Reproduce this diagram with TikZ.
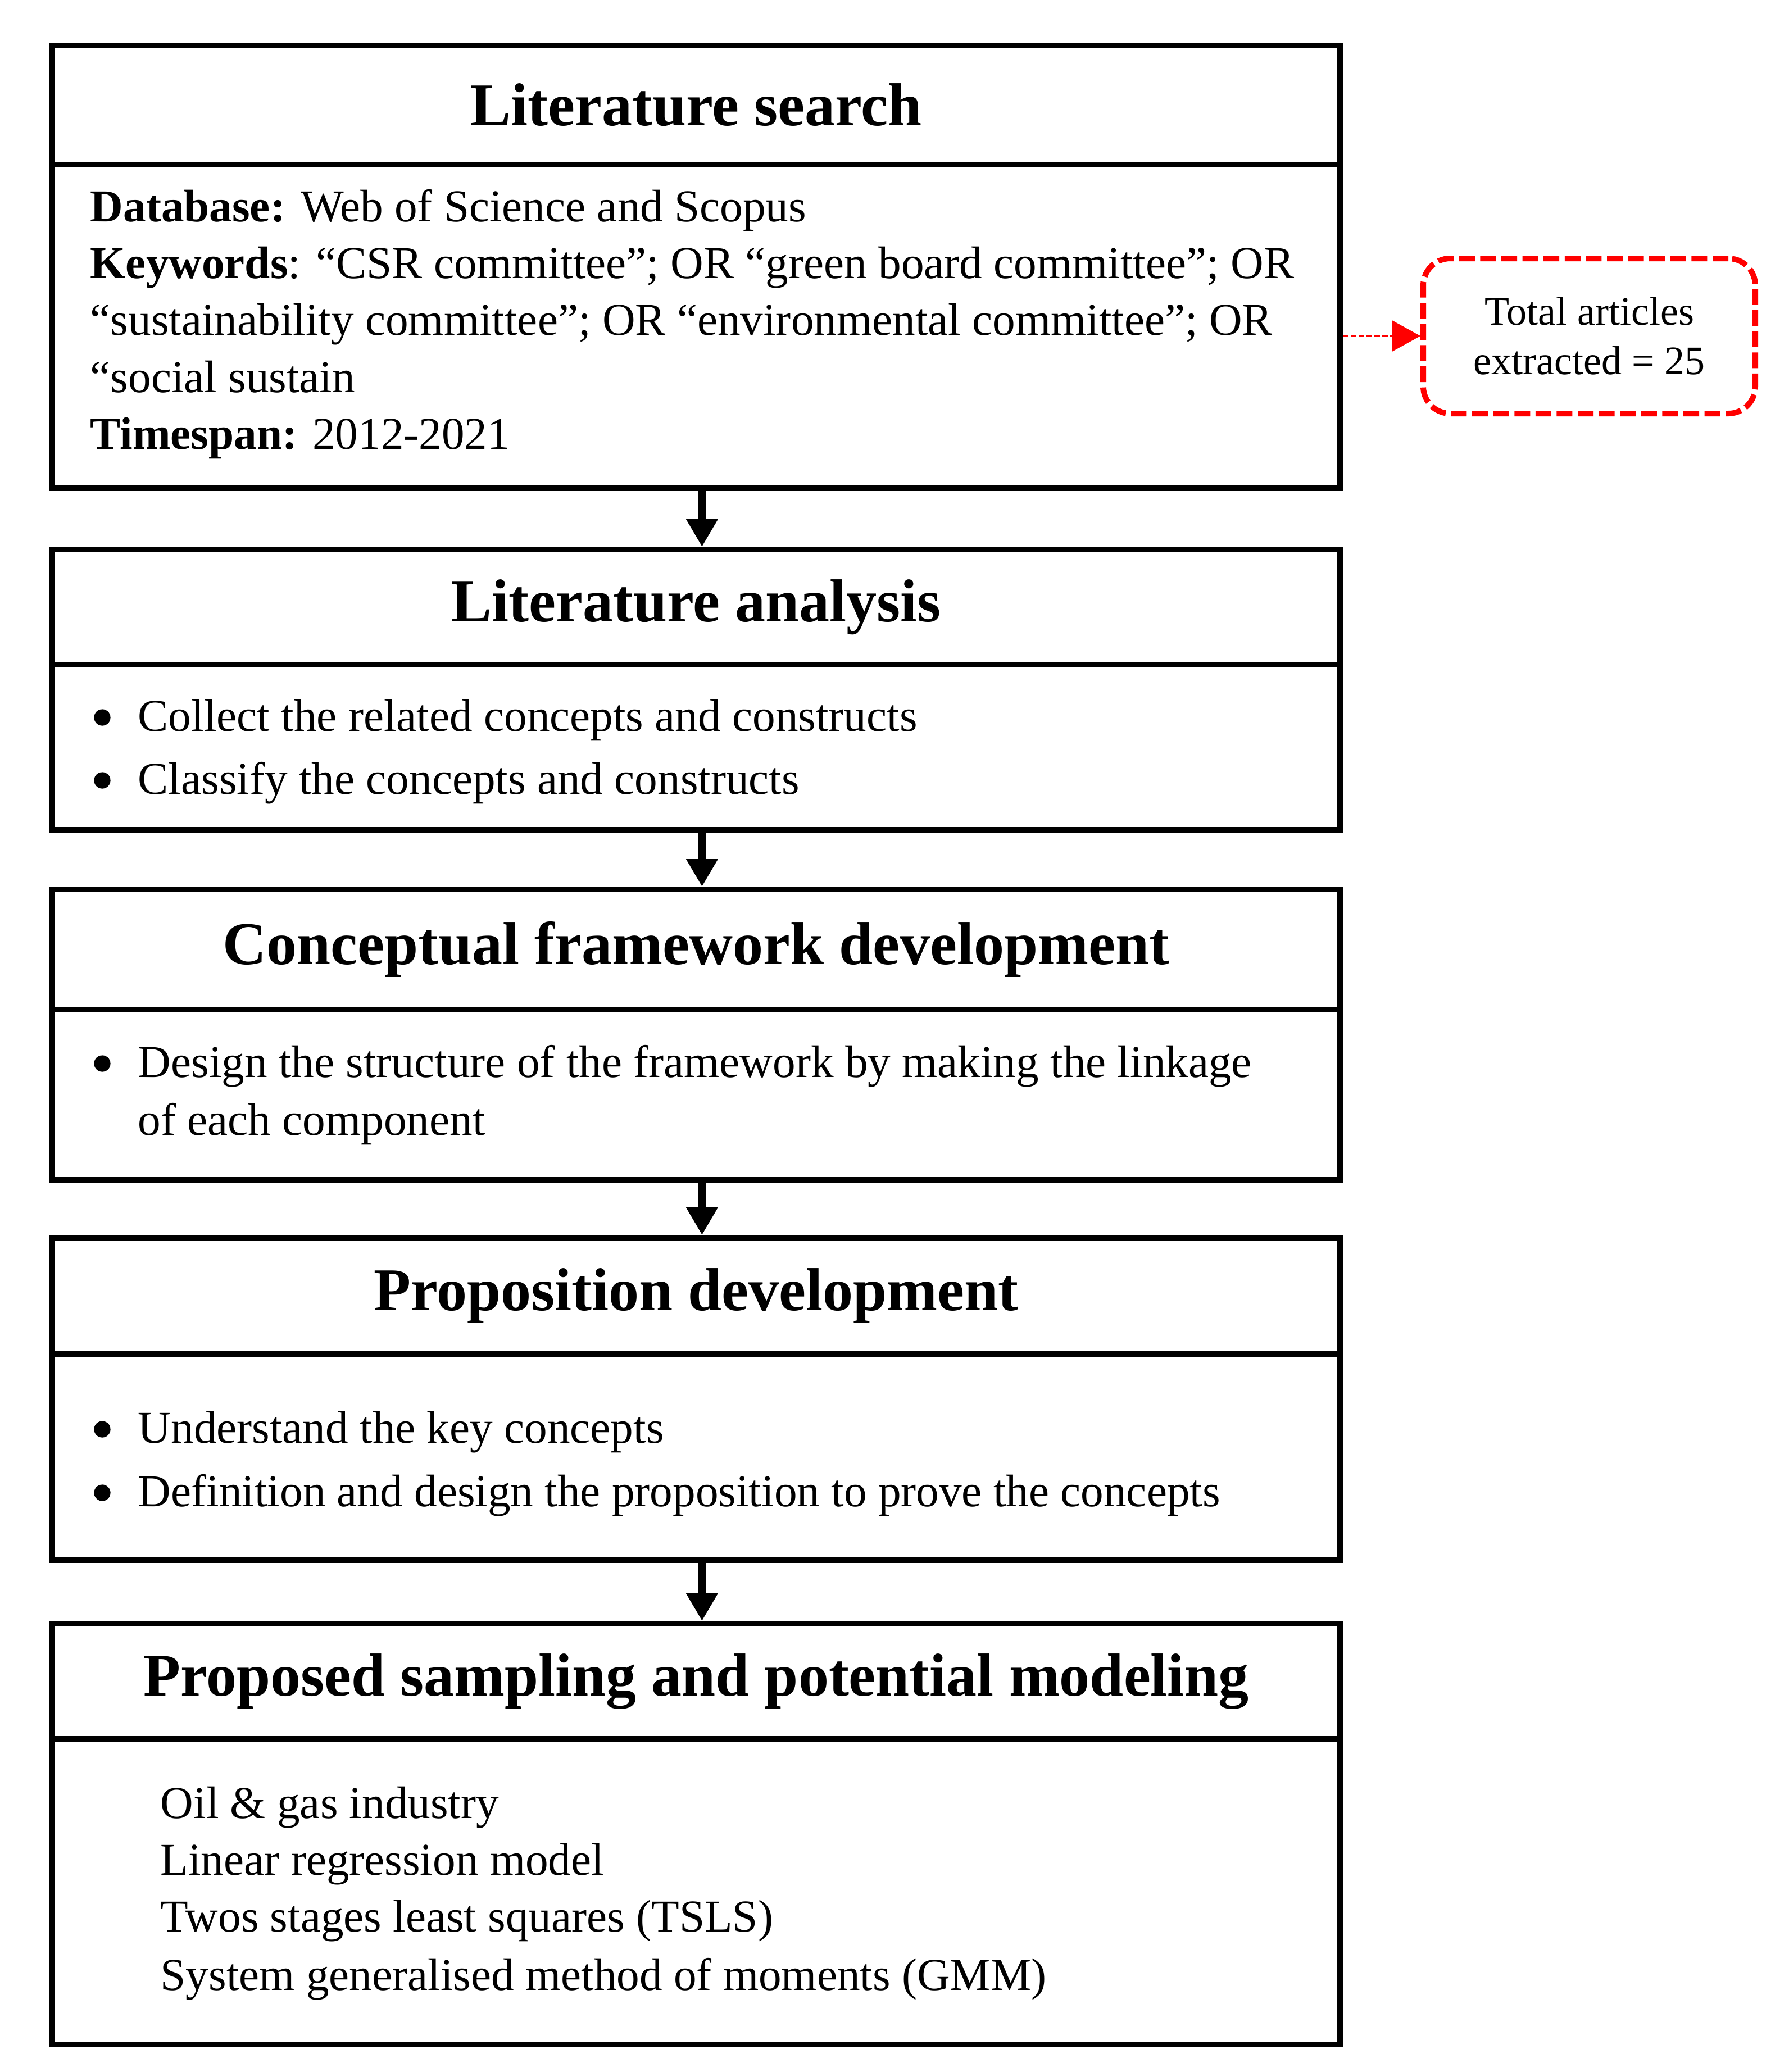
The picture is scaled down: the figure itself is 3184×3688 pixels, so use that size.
\documentclass[tikz,border=0pt]{standalone}
\usepackage{fontspec}
\setmainfont{Liberation Serif}
\usetikzlibrary{arrows.meta}
\begin{document}
\begin{tikzpicture}[x=0.25pt,y=-0.25pt,
  titlebox/.style={draw, line width=2.4pt, minimum width=572.9pt, inner sep=0pt,
    font=\fontsize{27}{32}\selectfont\bfseries},
  bodybox/.style={draw, line width=2.4pt, minimum width=572.9pt, inner sep=0pt},
  txt/.style={anchor=base west, inner sep=0pt, font=\fontsize{20.3}{25}\selectfont},
  bul/.style={circle, fill=black, inner sep=0pt, minimum size=7.3pt},
  arr/.style={line width=3.3pt, -{Triangle[length=12.25pt,width=13.25pt]}},
  redbox/.style={draw=red, line width=2.5pt, dash pattern=on 7pt off 2.4pt, rounded corners=12pt,
    minimum width=147.75pt, minimum height=69pt, inner sep=0pt, align=center,
    font=\fontsize{18}{22}\selectfont},
  redarr/.style={draw=red, line width=1.2pt, dash pattern=on 2.5pt off 1pt, -{Triangle[length=12.5pt,width=13.5pt]}}
]
\useasboundingbox (0,0) rectangle (3184,3688);

% Box 1
\node[titlebox, minimum height=53pt] (t1) at (1239,187) {Literature search};
\node[bodybox, minimum height=144pt] (b1) at (1239,581) {};
\node[txt] (l11) at (160,394) {\textbf{Database:} Web of Science and Scopus};
\node[txt] (l12) at (160,495) {\textbf{Keywords}: “CSR committee”; OR “green board committee”; OR};
\node[txt] (l13) at (160,596) {“sustainability committee”; OR “environmental committee”; OR};
\node[txt] (l14) at (160,698) {“social sustain};
\node[txt] (l15) at (160,799) {\textbf{Timespan:} 2012-2021};

% Box 2
\node[titlebox, minimum height=51.25pt] (t2) at (1239,1080.5) {Literature analysis};
\node[bodybox, minimum height=73.5pt] (b2) at (1239,1330) {};
\node[bul] (p21) at (182,1277) {};
\node[txt] (l21) at (245,1301) {Collect the related concepts and constructs};
\node[bul] (p22) at (182,1389) {};
\node[txt] (l22) at (245,1413) {Classify the concepts and constructs};

% Box 3
\node[titlebox, minimum height=53.5pt] (t3) at (1239,1690) {Conceptual framework development};
\node[bodybox, minimum height=75.75pt] (b3) at (1239,1948.5) {};
\node[bul] (p31) at (182,1893) {};
\node[txt] (l31) at (245,1917) {Design the structure of the framework by making the linkage};
\node[txt] (l32) at (245,2020) {of each component};

% Box 4
\node[titlebox, minimum height=51.75pt] (t4) at (1239,2306.5) {Proposition development};
\node[bodybox, minimum height=91.75pt] (b4) at (1239,2593.5) {};
\node[bul] (p41) at (182,2544) {};
\node[txt] (l41) at (245,2568) {Understand the key concepts};
\node[bul] (p42) at (182,2657) {};
\node[txt] (l42) at (245,2681) {Definition and design the proposition to prove the concepts};

% Box 5
\node[titlebox, minimum height=51.25pt] (t5) at (1239,2992.5) {Proposed sampling and potential modeling};
\node[bodybox, minimum height=136pt] (b5) at (1239,3367) {};
\node[txt] (l51) at (285,3236) {Oil \& gas industry};
\node[txt] (l52) at (285,3337) {Linear regression model};
\node[txt] (l53) at (285,3438) {Twos stages least squares (TSLS)};
\node[txt] (l54) at (285,3542) {System generalised method of moments (GMM)};

% Red box
\node[redbox] (r) at (2828.5,598) {Total articles\\extracted = 25};

% Connectors
\draw[arr] ([xshift=2.6pt]b1.south) -- ([xshift=2.6pt]t2.north);
\draw[arr] ([xshift=2.6pt]b2.south) -- ([xshift=2.6pt]t3.north);
\draw[arr] ([xshift=2.6pt]b3.south) -- ([xshift=2.6pt]t4.north);
\draw[arr] ([xshift=2.6pt]b4.south) -- ([xshift=2.6pt]t5.north);
\draw[redarr] (b1.east |- r.west) -- (r.west);
\end{tikzpicture}
\end{document}
